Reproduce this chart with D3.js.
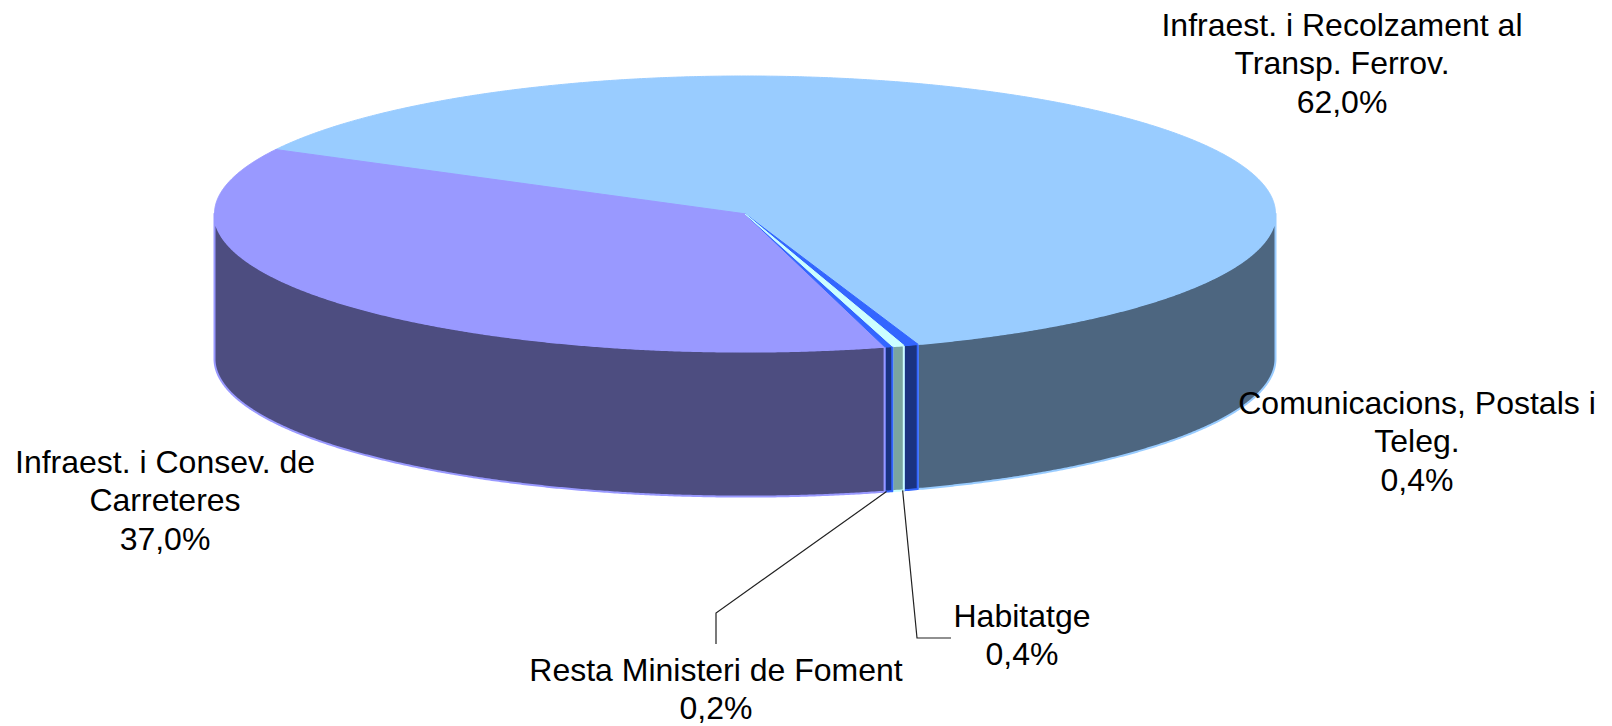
<!DOCTYPE html>
<html><head><meta charset="utf-8">
<style>html,body{margin:0;padding:0;background:#fff}svg{display:block}text{font-family:"Liberation Sans",Arial,sans-serif;fill:#000}</style>
<script src="https://cdn.jsdelivr.net/npm/d3@7"></script></head><body>
<script>
const categories = ["Infraest. i Recolzament al Transp. Ferrov.","Comunicacions, Postals i Teleg.","Habitatge","Resta Ministeri de Foment","Infraest. i Consev. de Carreteres"];
const values = [62.0,0.44,0.36,0.24,36.96];
const topColors = ["#99ccff","#3366ff","#ccffff","#3366ff","#9999ff"];
const sideColors = ["#4d6680","#1a3380","#7aa5a0","#1a3380","#4d4d80"];
const labelLines = [["Infraest. i Recolzament al","Transp. Ferrov."],["Comunicacions, Postals i","Teleg."],["Habitatge"],["Resta Ministeri de Foment"],["Infraest. i Consev. de","Carreteres"]];

const W=1612,H=726;
const cx=745,cy=213.8,rx=530.5,ry=137.8,depth=145;
const fontSize=32,lineH=38.4;
const labelPos=[[1342,36],[1417,414],[1022,627],[716,681],[165,473]];
const leaderElbows={2:{f:0.1,pts:[[917,638],[951,638]]},3:{f:0.75,pts:[[716,613],[716,644]]}};

const svg=d3.select("body").append("svg").attr("width",W).attr("height",H);
const px=d3.scaleLinear().domain([-1,1]).range([cx-rx,cx+rx]);
const py=d3.scaleLinear().domain([-1,1]).range([cy-ry,cy+ry]);
const ptAt=(a,dz=0)=>[px(Math.sin(a)),py(-Math.cos(a))+dz];
const startA=297.8*Math.PI/180;
const pie=d3.pie().sort(null).startAngle(startA).endAngle(startA+2*Math.PI);
const arcs=pie(values);
const line=d3.line();
const samples=(a0,a1)=>{const n=Math.max(2,Math.ceil(Math.abs(a1-a0)/0.005));return d3.range(n+1).map(i=>a0+(a1-a0)*i/n);};

// front walls: the visible part of each slice lies between 90 and 270 degrees
const front0=Math.PI/2,front1=3*Math.PI/2;
const walls=[];
arcs.forEach((d,i)=>{
  [0,2*Math.PI].forEach(off=>{
    const a0=Math.max(d.startAngle-off,front0),a1=Math.min(d.endAngle-off,front1);
    if(a1>a0) walls.push({i,a0,a1});
  });
});
svg.append("g").selectAll("path").data(walls).join("path")
  .attr("d",w=>{const s=samples(w.a0,w.a1);return line([...s.map(a=>ptAt(a)),...s.slice().reverse().map(a=>ptAt(a,depth))])+"Z";})
  .attr("fill",w=>sideColors[w.i]).attr("stroke",w=>topColors[w.i]).attr("stroke-width",2).attr("stroke-linejoin","round");

// top face
const order=[0,4,1,3,2];
svg.append("g").selectAll("path").data(order).join("path")
  .attr("d",i=>{const d=arcs[i];return line([[cx,cy],...samples(d.startAngle,d.endAngle).map(a=>ptAt(a))])+"Z";})
  .attr("fill",i=>topColors[i]).attr("stroke",i=>topColors[i]).attr("stroke-width",1).attr("stroke-linejoin","round");

// leaders
Object.entries(leaderElbows).forEach(([k,el])=>{
  const d=arcs[+k];
  const a=d.startAngle+(d.endAngle-d.startAngle)*el.f;
  svg.append("path").attr("d",line([ptAt(a,depth),...el.pts]))
    .attr("fill","none").attr("stroke","#222").attr("stroke-width",1.2);
});

// labels
const fmt=d3.format(".1f");
categories.forEach((c,i)=>{
  const t=svg.append("text").attr("text-anchor","middle").attr("font-size",fontSize);
  const lines=[...labelLines[i],fmt(values[i]).replace(".",",")+"%"];
  lines.forEach((l,j)=>t.append("tspan").attr("x",labelPos[i][0]).attr("y",labelPos[i][1]+j*lineH).text(l));
});
</script></body></html>
